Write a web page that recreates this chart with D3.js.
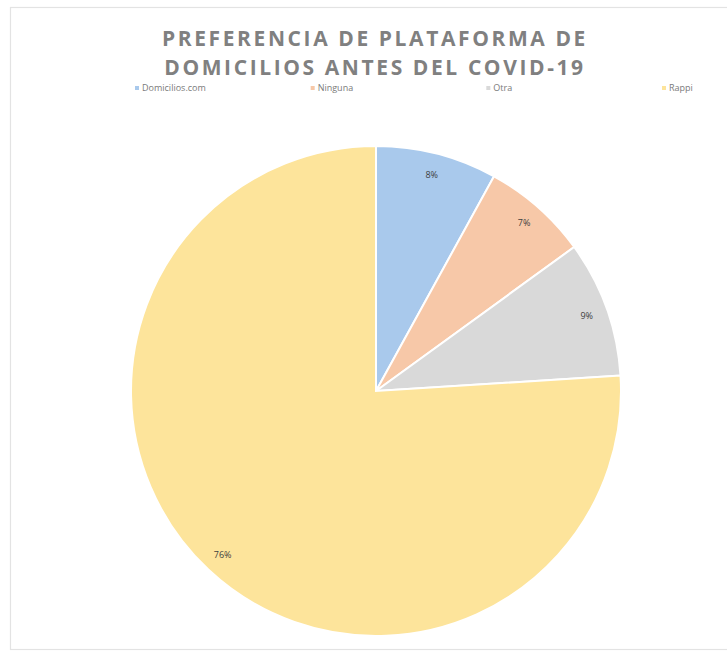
<!DOCTYPE html>
<html>
<head>
<meta charset="utf-8">
<script src="https://cdn.jsdelivr.net/npm/d3@7"></script>
<style>
  html, body { margin: 0; padding: 0; background: #ffffff; }
  svg { display: block; }
</style>
</head>
<body>
<svg id="chart" width="727" height="651"></svg>
<script>
const titleLines = ["PREFERENCIA DE PLATAFORMA DE", "DOMICILIOS ANTES DEL COVID-19"];
const categories = ["Domicilios.com", "Ninguna", "Otra", "Rappi"];
const values = [8, 7, 9, 76];
const colors = ["#a9c9ec", "#f7c8a8", "#d9d9d9", "#fde49b"];

const svg = d3.select("#chart");

// chart area border
svg.append("rect")
  .attr("x", 10.5).attr("y", 7.5)
  .attr("width", 730).attr("height", 642)
  .attr("fill", "#ffffff")
  .attr("stroke", "#e3e3e3")
  .attr("stroke-width", 1.2);

// title
const title = svg.append("text")
  .attr("text-anchor", "middle")
  .attr("font-family", "'Open Sans', 'Liberation Sans', sans-serif")
  .attr("font-weight", "bold")
  .attr("font-size", 21)
  .attr("letter-spacing", 2.6)
  .attr("fill", "#808080");
titleLines.forEach((t, i) => {
  title.append("tspan").attr("x", 375).attr("y", 46 + i * 29).text(t);
});

// legend
const legendX = d3.scalePoint().domain(categories).range([137, 664]);
const lg = svg.append("g").selectAll("g").data(categories).join("g")
  .attr("transform", d => `translate(${legendX(d)},91)`);
lg.append("rect")
  .attr("x", -2).attr("y", -5).attr("width", 4).attr("height", 4)
  .attr("fill", (d, i) => colors[i]);
lg.append("text")
  .attr("x", 5).attr("y", 0)
  .attr("font-family", "'Open Sans', 'Liberation Sans', sans-serif")
  .attr("font-size", 9)
  .attr("fill", "#7a7a7a")
  .text(d => d);

// pie
const cx = 376, cy = 391, R = 245;
const pie = d3.pie().sort(null).value(d => d)(values);
const arc = d3.arc().innerRadius(0).outerRadius(R);
const labelArc = d3.arc().innerRadius(224).outerRadius(224);

const g = svg.append("g").attr("transform", `translate(${cx},${cy})`);
g.selectAll("path").data(pie).join("path")
  .attr("d", arc)
  .attr("fill", (d, i) => colors[i])
  .attr("stroke", "#ffffff")
  .attr("stroke-width", 2);

g.selectAll("text.lbl").data(pie).join("text")
  .attr("class", "lbl")
  .attr("transform", d => `translate(${labelArc.centroid(d)})`)
  .attr("text-anchor", "middle")
  .attr("dominant-baseline", "central")
  .attr("font-family", "'Open Sans', 'Liberation Sans', sans-serif")
  .attr("font-size", 9)
  .attr("fill", "#404040")
  .text(d => d.data + "%");
</script>
</body>
</html>
